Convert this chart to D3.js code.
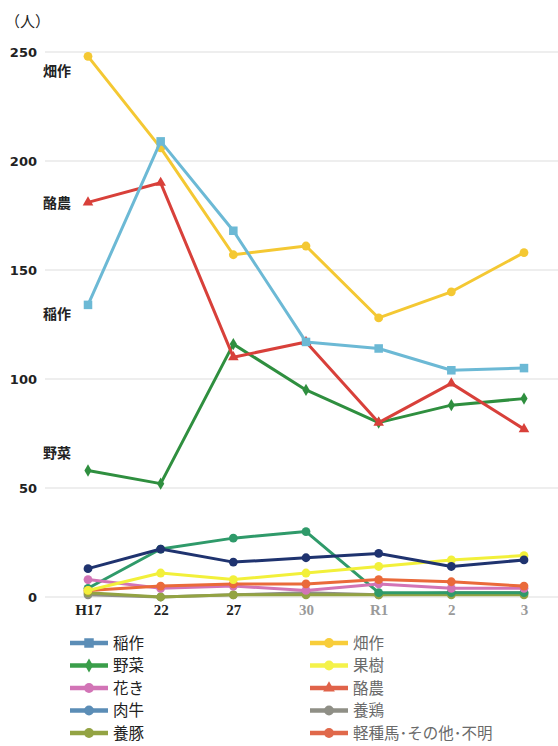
<!DOCTYPE html>
<html lang="ja">
<head>
<meta charset="utf-8">
<script src="https://cdn.jsdelivr.net/npm/d3@7"></script>
<style>
  html, body { margin: 0; padding: 0; background: #fff; }
  svg { display: block; font-family: "Noto Sans CJK JP", "Noto Sans", sans-serif; }
</style>
</head>
<body>
<svg id="chart" width="558" height="746"></svg>
<script>
// Years (Heisei 17 … Reiwa 3)
const years = ["H17", "22", "27", "30", "R1", "2", "3"];
const yTicks = [0, 50, 100, 150, 200, 250];

// Number of people by farming type
const inasaku   = [134, 209, 168, 117, 114, 104, 105]; // 稲作
const hatasaku  = [248, 206, 157, 161, 128, 140, 158]; // 畑作
const yasai     = [58, 52, 116, 95, 80, 88, 91];       // 野菜
const kaju      = [3, 11, 8, 11, 14, 17, 19];          // 果樹
const kaki      = [8, 4, 5, 3, 6, 4, 4];               // 花き
const rakuno    = [181, 190, 110, 117, 80, 98, 77];    // 酪農
const nikugyu   = [13, 22, 16, 18, 20, 14, 17];        // 肉牛
const yokei     = [1, 0, 1, 2, 1, 2, 2];               // 養鶏
const youton    = [2, 0, 1, 1, 1, 1, 1];               // 養豚
const keishuba  = [3, 5, 6, 6, 8, 7, 5];               // 軽種馬・その他・不明
const sonota    = [4, 22, 27, 30, 2, 2, 2];            // series without a legend row

// name, values, line colour, legend colour, marker
const series = [
  { name: "養鶏", values: yokei, color: "#8f8f86", legend: "#8f8f86", marker: "circle" },
  { name: "養豚", values: youton, color: "#93a343", legend: "#93a343", marker: "circle" },
  { name: "", values: sonota, color: "#2f9a6a", legend: null, marker: "circle" },
  { name: "花き", values: kaki, color: "#d274b6", legend: "#d274b6", marker: "circle" },
  { name: "軽種馬･その他･不明", values: keishuba, color: "#ea6a3a", legend: "#e0684a", marker: "circle" },
  { name: "果樹", values: kaju, color: "#f2f03a", legend: "#f4f24a", marker: "circle" },
  { name: "肉牛", values: nikugyu, color: "#1f336f", legend: "#5b8db6", marker: "circle" },
  { name: "野菜", values: yasai, color: "#2f8f3f", legend: "#3a9e4a", marker: "diamond" },
  { name: "酪農", values: rakuno, color: "#d8403a", legend: "#e0634a", marker: "triangle" },
  { name: "畑作", values: hatasaku, color: "#f4c833", legend: "#f8cd3a", marker: "circle" },
  { name: "稲作", values: inasaku, color: "#6cb9d5", legend: "#5b8db6", marker: "square" }
];

// Legend layout (two columns, reading order)
const legendCol1 = ["稲作", "野菜", "花き", "肉牛", "養豚"];
const legendCol2 = ["畑作", "果樹", "酪農", "養鶏", "軽種馬･その他･不明"];

// Inline labels at the left end of the main series
const sideLabels = [
  { name: "畑作", value: 248, dy: 20 },
  { name: "酪農", value: 181, dy: 6 },
  { name: "稲作", value: 134, dy: 14 },
  { name: "野菜", value: 58, dy: -13 }
];

const svg = d3.select("#chart");

const x = d3.scalePoint().domain(years).range([88, 524]);
const y = d3.scaleLinear().domain([0, 250]).range([597, 52]);

// Grid lines
svg.append("g")
  .selectAll("line")
  .data(yTicks)
  .join("line")
  .attr("x1", 45).attr("x2", 558)
  .attr("y1", d => y(d)).attr("y2", d => y(d))
  .attr("stroke", "#e8e8e8")
  .attr("stroke-width", 1.5);

// Y axis labels
const yAxis = d3.axisLeft(y).tickValues(yTicks).tickSize(0).tickPadding(0);
const yg = svg.append("g").attr("transform", "translate(37,0)").call(yAxis);
yg.select(".domain").remove();
yg.selectAll("text")
  .attr("font-family", "'DejaVu Sans', sans-serif")
  .attr("font-weight", "bold")
  .attr("font-size", 13)
  .attr("fill", "#222");

// X axis labels
const xAxis = d3.axisBottom(x).tickSize(0).tickPadding(0);
const xg = svg.append("g").attr("transform", "translate(0,604)").call(xAxis);
xg.select(".domain").remove();
xg.selectAll("text")
  .attr("font-family", "'Liberation Serif', 'DejaVu Serif', serif")
  .attr("font-weight", "bold")
  .attr("font-size", 15)
  .attr("fill", (d, i) => i < 3 ? "#222" : "#9a9a9a");

// Unit label
svg.append("text")
  .attr("x", 5).attr("y", 27)
  .attr("font-size", 15)
  .attr("fill", "#222")
  .text("（人）");

const line = d3.line()
  .x((d, i) => x(years[i]))
  .y(d => y(d));

function drawMarker(sel, type, color, size) {
  const sym = {
    circle: d3.symbolCircle,
    square: d3.symbolSquare,
    diamond: d3.symbolDiamond,
    triangle: d3.symbolTriangle
  }[type];
  const scale = { circle: 0.75, square: 0.9, diamond: 0.55, triangle: 0.6 }[type];
  sel.append("path")
    .attr("d", d3.symbol().type(sym).size(size * size * scale))
    .attr("fill", color);
}

// Lines and markers
series.forEach(s => {
  const g = svg.append("g");
  g.append("path")
    .datum(s.values)
    .attr("d", line)
    .attr("fill", "none")
    .attr("stroke", s.color)
    .attr("stroke-width", 3)
    .attr("stroke-linejoin", "round");
  s.values.forEach((v, i) => {
    const m = g.append("g").attr("transform", `translate(${x(years[i])},${y(v)})`);
    drawMarker(m, s.marker, s.color, 9);
  });
});

// Inline labels
svg.append("g")
  .selectAll("text")
  .data(sideLabels)
  .join("text")
  .attr("x", 43)
  .attr("y", d => y(d.value) + d.dy)
  .attr("font-size", 14)
  .attr("font-weight", "bold")
  .attr("fill", "#222")
  .text(d => d.name);

// Legend
function legendColumn(names, x0, textColor) {
  names.forEach((n, i) => {
    const s = series.find(d => d.name === n);
    const yy = 643 + i * 22.5;
    const g = svg.append("g");
    g.append("line")
      .attr("x1", x0).attr("x2", x0 + 38)
      .attr("y1", yy).attr("y2", yy)
      .attr("stroke", s.legend)
      .attr("stroke-width", 4.5);
    const m = g.append("g").attr("transform", `translate(${x0 + 19},${yy})`);
    drawMarker(m, s.marker, s.legend, 10);
    g.append("text")
      .attr("x", x0 + 43).attr("y", yy + 5.5)
      .attr("font-size", 15.5)
      .attr("fill", textColor)
      .text(n);
  });
}
legendColumn(legendCol1, 70, "#222");
legendColumn(legendCol2, 310, "#6a6a6a");
</script>
</body>
</html>
